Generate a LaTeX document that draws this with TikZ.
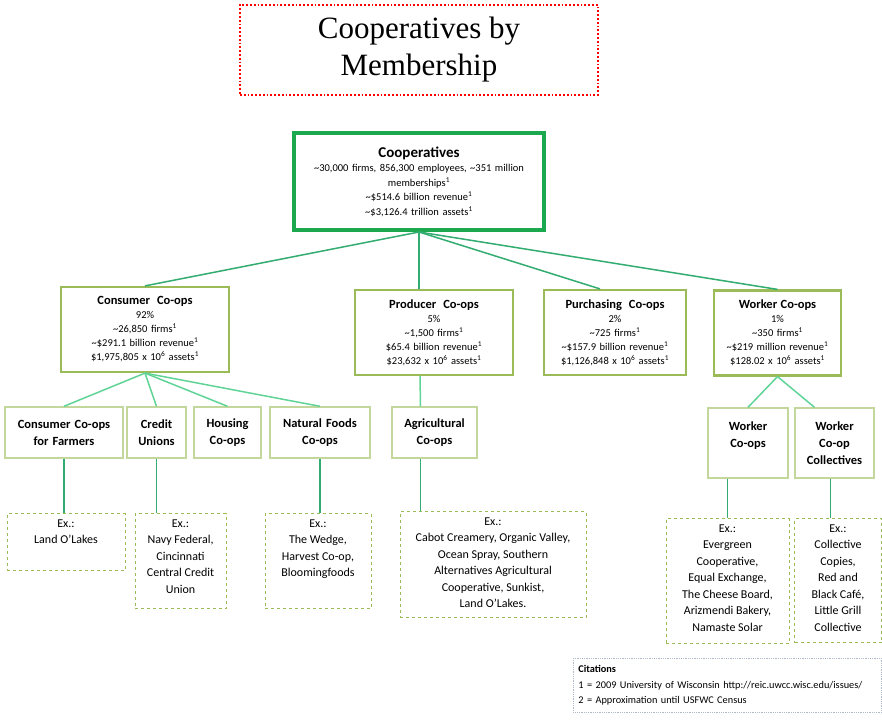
\documentclass[tikz,border=0pt]{standalone}
\usepackage{fontspec}
\setmainfont{Carlito}
\newfontfamily\titlefont{Liberation Serif}
\usetikzlibrary{positioning}

\definecolor{boxgreen}{RGB}{28,168,78}
\definecolor{olivegreen}{RGB}{155,187,89}
\definecolor{palegreen}{RGB}{195,214,155}
\definecolor{linkgreen}{RGB}{50,172,112}
\definecolor{lightlink}{RGB}{95,212,150}
\definecolor{citegray}{RGB}{175,185,200}

\newcommand{\sone}{\textsuperscript{1}}
\newcommand{\til}{\textasciitilde}
\newcommand{\extop}[3]{\parbox[t][#2pt][t]{#1pt}{\centering #3}}

\begin{document}
\begin{tikzpicture}[x=1pt,y=-1pt,
    titlebox/.style={draw=red, dotted, line width=1.8pt, align=center, minimum width=358, minimum height=90, font=\titlefont\fontsize{31}{37}\selectfont},
    topbox/.style={draw=boxgreen, line width=4pt, align=center, minimum height=97, inner sep=2pt, font=\fontsize{10.5}{14.5}\selectfont},
    maingroup/.style={draw=olivegreen, line width=2.2pt, align=center, minimum height=85, inner sep=2pt, font=\fontsize{10.5}{14}\selectfont},
    subgroup/.style={draw=palegreen, line width=1.4pt, align=center, minimum height=51, inner sep=2pt, font=\bfseries\fontsize{12.5}{17}\selectfont},
    exbox/.style={draw=olivegreen, dashed, line width=1pt, anchor=north, inner sep=6pt, font=\fontsize{12}{16.5}\selectfont},
    citebox/.style={draw=citegray, densely dotted, line width=0.8pt, anchor=north west, align=left, minimum height=54, inner sep=5pt, font=\fontsize{10.3}{15.5}\selectfont},
    toplink/.style={draw=linkgreen, line width=1.5pt},
    sublink/.style={draw=lightlink, line width=1.5pt}]
    \useasboundingbox (0,0) rectangle (882,719);

    % title and root
    \node[titlebox] at (419,50) (title){Cooperatives by\\Membership};
    \node[topbox, text width=246] at (419,181.5) (top){{\bfseries\fontsize{15}{18}\selectfont Cooperatives}\\
        \til30,000 firms, 856,300 employees, \til351 million\\ memberships\sone\\
        \til\$514.6 billion revenue\sone\\ \til\$3,126.4 trillion assets\sone};

    % membership groups
    \node[maingroup, text width=164] at (145,329.5) (cons){{\bfseries\fontsize{12.5}{16}\selectfont Consumer\ \ Co-ops}\\ 92\%\\
        \til26,850 firms\sone\\ \til\$291.1 billion revenue\sone\\ \$1,975,805 x 10\textsuperscript{6} assets\sone};
    \node[maingroup, text width=154] at (434,332.5) (prod){{\bfseries\fontsize{12.5}{16}\selectfont Producer\ \ Co-ops}\\ 5\%\\
        \til1,500 firms\sone\\ \$65.4 billion revenue\sone\\ \$23,632 x 10\textsuperscript{6} assets\sone};
    \node[maingroup, text width=138] at (615,332.5) (purch){{\bfseries\fontsize{12.5}{16}\selectfont Purchasing\ \ Co-ops}\\ 2\%\\
        \til725 firms\sone\\ \til\$157.9 billion revenue\sone\\ \$1,126,848 x 10\textsuperscript{6} assets\sone};
    \node[maingroup, text width=123] at (777.5,333) (work){{\bfseries\fontsize{12.5}{16}\selectfont Worker Co-ops}\\ 1\%\\
        \til350 firms\sone\\ \til\$219 million revenue\sone\\ \$128.02 x 10\textsuperscript{6} assets\sone};

    % sub groups
    \node[subgroup, text width=114] at (64,432.5) (farm){Consumer Co-ops\\for Farmers};
    \node[subgroup, text width=55] at (156.5,432.5) (cred){Credit\\Unions};
    \node[subgroup, text width=63] at (227.5,432.5) (hous){Housing\\Co-ops};
    \node[subgroup, text width=96] at (320,432.5) (natf){Natural Foods\\Co-ops};
    \node[subgroup, text width=81] at (434.5,432.5) (agri){Agricultural\\Co-ops};
    \node[subgroup, text width=76, minimum height=70] at (748,443) (wcoop){Worker\\Co-ops\\~};
    \node[subgroup, text width=75, minimum height=70] at (834.5,443) (wcoll){Worker\\Co-op\\Collectives};

    % examples
    \node[exbox] at (66,513) (exA){\extop{106}{45}{Ex.:\\Land O'Lakes}};
    \node[exbox] at (180.5,513) (exB){\extop{79}{83}{Ex.:\\Navy Federal,\\Cincinnati\\Central Credit\\Union}};
    \node[exbox] at (318,513) (exC){\extop{94}{83}{Ex.:\\The Wedge,\\Harvest Co-op,\\Bloomingfoods}};
    \node[exbox] at (493,511) (exD){\extop{174}{94}{Ex.:\\Cabot Creamery, Organic Valley,\\Ocean Spray, Southern\\Alternatives Agricultural\\Cooperative, Sunkist,\\Land O'Lakes.}};
    \node[exbox] at (727.5,518) (exE){\extop{111}{113}{Ex.:\\Evergreen\\Cooperative,\\Equal Exchange,\\The Cheese Board,\\Arizmendi Bakery,\\Namaste Solar}};
    \node[exbox] at (838,518) (exF){\extop{75}{112}{Ex.:\\Collective\\Copies,\\Red and\\Black Café,\\Little Grill\\Collective}};

    \node[citebox, text width=298] at (573,658) (cite){\textbf{Citations}\\
        1 = 2009 University of Wisconsin http://reic.uwcc.wisc.edu/issues/\\
        2 = Approximation until USFWC Census};

    \draw[toplink]
    (top.south) edge (cons.north)
    (top.south) edge (top.south |- prod.north)
    (top.south) edge ([xshift=-15]purch.north)
    (top.south) edge (work.north);

    \draw[sublink]
    (cons.south) edge (farm.north)
    (cons.south) edge (cred.north)
    (cons.south) edge (hous.north)
    (cons.south) edge (natf.north)
    ([xshift=-14]prod.south) edge ([xshift=-14]agri.north)
    (work.south) edge (wcoop.north)
    (work.south) edge ([xshift=-20]wcoll.north);

    \draw[toplink]
    (farm.south) edge (farm.south |- exA.north)
    (cred.south) edge (cred.south |- exB.north)
    (natf.south) edge (natf.south |- exC.north)
    ([xshift=-14]agri.south) edge ([xshift=-14]agri.south |- exD.north)
    (exE.north |- wcoop.south) edge (exE.north)
    ([xshift=-4]wcoll.south) edge ([xshift=-4]wcoll.south |- exF.north);
\end{tikzpicture}
\end{document}
